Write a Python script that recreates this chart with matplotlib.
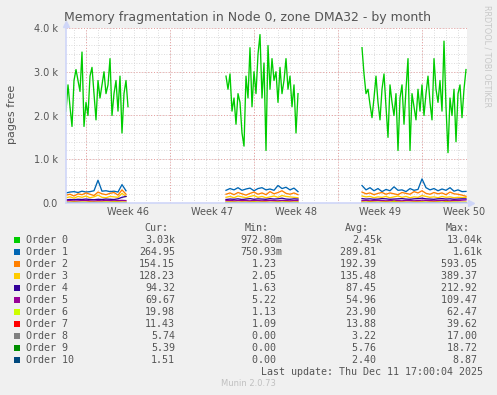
import numpy as np
import matplotlib
matplotlib.use("Agg")
import matplotlib.pyplot as plt
from matplotlib.patches import Rectangle

W, H = 497, 395

# time span of the graph
t_start = np.datetime64("2025-11-08T07:00")
t_end = np.datetime64("2025-12-11T17:00")
seg_starts = [np.datetime64("2025-11-08T07:00"),
              np.datetime64("2025-11-21T15:00"),
              np.datetime64("2025-12-02T23:00")]

# pages free, order 0 sampled every 4 h, the others every 8 h
order0 = [
    [2100, 2700, 2200, 1750, 2800, 3050, 2800, 2550, 3450, 1750, 2300, 2000, 2900, 3100, 2500, 1900,
     2800, 2400, 2700, 3000, 2500, 2700, 3300, 2000, 2500, 2800, 2100, 2900, 1600, 2500, 2800, 2200],
    [2900, 2600, 2950, 2100, 2400, 1800, 2500, 2300, 1600, 1300, 2900, 2400, 3550, 2200, 3000, 2500,
     3400, 3850, 2400, 3200, 1200, 3600, 2600, 3300, 2800, 3000, 2300, 3100, 2500, 2800, 3300, 2600,
     2900, 2200, 2700, 1600, 2500],
    [3550, 2950, 2500, 2600, 2250, 1950, 2400, 2900, 2300, 1900, 2600, 2950, 2200, 1500, 2700, 2300,
     2000, 2500, 1200, 2400, 2700, 1800, 2600, 3300, 1200, 2500, 2200, 1900, 2600, 2100, 2700, 2000,
     2500, 2900, 2300, 1900, 3300, 2600, 2300, 2800, 2100, 3700, 2200, 1150, 2400, 2000, 2600, 1400,
     2500, 2700, 1950, 2600, 3050],
]
order1 = [
    [230, 250, 260, 240, 270, 250, 260, 280, 520, 270, 280, 260, 270, 250, 420, 280],
    [290, 330, 300, 350, 290, 320, 340, 280, 330, 350, 300, 320, 290, 400, 330, 360, 300, 340, 260],
    [400, 300, 350, 280, 330, 260, 310, 280, 370, 290, 300, 260, 330, 290, 310, 550, 350, 300, 330,
     280, 320, 290, 350, 270, 300, 260, 265],
]
order2 = [
    [180, 200, 160, 210, 190, 230, 200, 170, 250, 210, 190, 220, 240, 180, 300, 200],
    [200, 230, 190, 240, 210, 180, 220, 250, 200, 230, 190, 260, 210, 240, 280, 220, 200, 230, 190],
    [250, 210, 230, 190, 220, 240, 200, 230, 210, 190, 240, 220, 200, 260, 230, 280, 220, 200, 240,
     210, 230, 190, 250, 210, 200, 180, 154],
]
order3 = [
    [120, 140, 110, 150, 130, 160, 120, 140, 180, 130, 120, 150, 140, 130, 220, 150],
    [130, 150, 120, 160, 140, 120, 150, 170, 130, 150, 120, 140, 160, 130, 170, 150, 140, 130, 120],
    [160, 140, 150, 120, 140, 130, 150, 120, 140, 160, 130, 150, 120, 140, 130, 170, 150, 130, 140,
     120, 150, 130, 140, 120, 130, 125, 128],
]
order4 = [
    [70, 80, 75, 85, 80, 90, 80, 75, 85, 80, 90, 85, 80, 95, 130, 150],
    [80, 90, 85, 95, 80, 90, 100, 85, 95, 90, 85, 100, 90, 95, 110, 90, 85, 95, 90],
    [100, 90, 95, 85, 90, 100, 95, 85, 90, 95, 100, 90, 85, 95, 100, 110, 95, 90, 85, 95, 100, 90,
     95, 85, 90, 95, 94],
]
order5 = [
    [50, 55, 45, 50, 55, 60, 50, 45, 55, 50, 60, 55, 50, 55, 60, 55],
    [55, 60, 50, 55, 60, 55, 50, 60, 55, 50, 55, 60, 55, 50, 60, 55, 50, 55, 60],
    [55, 60, 50, 55, 60, 55, 50, 55, 60, 55, 50, 60, 55, 50, 55, 65, 60, 55, 50, 55, 60, 55, 50, 60,
     55, 65, 70],
]
order6 = [
    [15, 20, 25, 18, 22, 20, 25, 18, 20, 22, 25, 20, 30, 25, 22, 20],
    [20, 25, 22, 18, 25, 20, 22, 30, 20, 25, 22, 18, 20, 25, 22, 28, 20, 22, 25],
    [25, 20, 30, 22, 20, 25, 28, 20, 40, 22, 25, 20, 18, 25, 22, 30, 20, 25, 22, 28, 20, 35, 22, 25,
     20, 18, 20],
]
order7 = [
    [10, 12, 14, 12, 10, 13, 15, 12, 14, 12, 11, 13, 12, 14, 13, 12],
    [12, 14, 13, 11, 15, 12, 14, 13, 12, 14, 15, 12, 13, 14, 12, 13, 15, 12, 14],
    [14, 12, 15, 13, 12, 14, 16, 13, 12, 15, 14, 13, 12, 14, 15, 13, 12, 14, 16, 13, 12, 14, 13, 12,
     11, 12, 11],
]
order8 = [
    [2, 3, 4, 3, 2, 3, 4, 3, 2, 3, 4, 3, 2, 3, 4, 3],
    [3, 4, 3, 2, 3, 4, 3, 2, 3, 4, 3, 2, 3, 4, 3, 2, 3, 4, 3],
    [3, 4, 3, 2, 3, 4, 3, 5, 3, 4, 3, 2, 3, 4, 3, 5, 3, 4, 3, 2, 3, 4, 5, 4, 6, 5, 6],
]
order9 = [
    [5, 6, 4, 5, 6, 5, 4, 6, 5, 6, 5, 4, 6, 5, 6, 5],
    [5, 6, 5, 4, 6, 5, 6, 5, 4, 5, 6, 5, 6, 5, 4, 6, 5, 6, 5],
    [6, 5, 6, 5, 4, 6, 5, 6, 5, 6, 5, 4, 6, 5, 6, 7, 6, 5, 6, 5, 6, 5, 6, 5, 6, 5, 5],
]
order10 = [
    [2, 3, 2, 3, 2, 3, 2, 3, 2, 3, 2, 3, 2, 3, 2, 3],
    [2, 3, 2, 3, 2, 3, 2, 3, 2, 3, 2, 3, 2, 3, 2, 3, 2, 3, 2],
    [3, 2, 3, 2, 3, 2, 3, 2, 3, 2, 3, 2, 3, 2, 3, 2, 3, 2, 3, 2, 3, 2, 3, 2, 2, 2, 1.5],
]

all_series = [order0, order1, order2, order3, order4, order5, order6, order7, order8, order9, order10]
steps = [4] + [8] * 10
names = ["Order %d" % i for i in range(11)]
colors = ["#00CC00", "#0066B3", "#FF8000", "#FFCC00", "#330099", "#990099",
          "#CCFF00", "#FF0000", "#808080", "#008F00", "#00487D"]

cur = ["3.03k", "264.95", "154.15", "128.23", "94.32", "69.67", "19.98", "11.43", "5.74", "5.39", "1.51"]
mins = ["972.80m", "750.93m", "1.23", "2.05", "1.63", "5.22", "1.13", "1.09", "0.00", "0.00", "0.00"]
avgs = ["2.45k", "289.81", "192.39", "135.48", "87.45", "54.96", "23.90", "13.88", "3.22", "5.76", "2.40"]
maxs = ["13.04k", "1.61k", "593.05", "389.37", "212.92", "109.47", "62.47", "39.62", "17.00", "18.72", "8.87"]

week_mondays = ["2025-11-10", "2025-11-17", "2025-11-24", "2025-12-01", "2025-12-08"]
week_labels = ["Week 46", "Week 47", "Week 48", "Week 49", "Week 50"]
yticks = [0, 1000, 2000, 3000, 4000]
ytick_labels = ["0.0", "1.0 k", "2.0 k", "3.0 k", "4.0 k"]

font_col = "#555555"
axis_col = "#CFD6F8"


def fx(x):
    return x / W


def fy(y):
    return 1 - y / H


def build(segs, step):
    ts, vs = [], []
    for start, vals in zip(seg_starts, segs):
        t = start + np.arange(len(vals)) * np.timedelta64(step, "h")
        ts.extend(t)
        vs.extend(vals)
        ts.append(t[-1] + np.timedelta64(1, "h"))
        vs.append(np.nan)
    return np.array(ts, dtype="datetime64[m]"), np.array(vs, dtype=float)


fig = plt.figure(figsize=(W / 100, H / 100), dpi=100, facecolor="#F0F0F0")
ax = fig.add_axes([fx(66), fy(203), fx(467) - fx(66), fy(28) - fy(203)])
ax.set_facecolor("white")
for s in ax.spines.values():
    s.set_visible(False)

ax.set_xlim(t_start, t_end)
ax.set_ylim(0, 4000)

# grid: daily / 200 pages minor, weekly / 1k major
dot = (0, (1, 2))
day = t_start.astype("datetime64[D]") + np.timedelta64(1, "D")
while day < t_end:
    ax.axvline(day, color="#d0d0d0", lw=0.6, ls=dot, zorder=0)
    day += np.timedelta64(1, "D")
for v in range(200, 4001, 200):
    ax.axhline(v, color="#d0d0d0", lw=0.6, ls=dot, zorder=0)
for d in week_mondays:
    ax.axvline(np.datetime64(d), color="#e8a0a0", lw=0.7, ls=dot, zorder=0.5)
for v in yticks[1:]:
    ax.axhline(v, color="#e8a0a0", lw=0.7, ls=dot, zorder=0.5)

for segs, step, c in zip(all_series, steps, colors):
    t, v = build(segs, step)
    ax.plot(t, v, color=c, lw=0.95)

mid = [np.datetime64(d) + np.timedelta64(84, "h") for d in week_mondays]
ax.set_xticks(mid)
ax.set_xticklabels(week_labels)
ax.set_yticks(yticks)
ax.set_yticklabels(ytick_labels)
ax.tick_params(length=0, labelsize=7, colors=font_col)
ax.tick_params(axis="y", pad=6)
ax.tick_params(axis="x", pad=3)

# axes with arrows
fig.add_artist(plt.Line2D([fx(66), fx(66)], [fy(203), fy(25)], color=axis_col, lw=1.2))
fig.add_artist(plt.Line2D([fx(66), fx(470)], [fy(203), fy(203)], color=axis_col, lw=1.2))
fig.add_artist(plt.Line2D([fx(66)], [fy(24)], marker="^", ms=4.5, color=axis_col))
fig.add_artist(plt.Line2D([fx(471)], [fy(203)], marker=">", ms=4.5, color=axis_col))

fig.text(fx(248), fy(18), "Memory fragmentation in Node 0, zone DMA32 - by month",
         ha="center", va="center", fontsize=9, color=font_col)
fig.text(fx(12), fy(114), "pages free", rotation=90, ha="center", va="center",
         fontsize=8, color=font_col)
fig.text(fx(487), fy(5), "RRDTOOL / TOBI OETIKER", rotation=270, ha="center", va="top",
         fontsize=5.8, color="#c8c8c8")

# legend table
mono = dict(family="DejaVu Sans Mono", fontsize=7.2, color=font_col, va="center")
for label, xr in zip(["Cur:", "Min:", "Avg:", "Max:"], [168, 269, 369, 470]):
    fig.text(fx(xr), fy(228), label, ha="right", **mono)


def padded(s):
    return s if s[-1] in "km" else s + " "


for i in range(11):
    y = 240 + 12 * i
    fig.add_artist(Rectangle((fx(14), fy(y + 3)), 6 / W, 6 / H, transform=fig.transFigure,
                             facecolor=colors[i], edgecolor="none"))
    fig.text(fx(26), fy(y), names[i], ha="left", **mono)
    fig.text(fx(175), fy(y), cur[i], ha="right", **mono)
    fig.text(fx(282), fy(y), padded(mins[i]), ha="right", **mono)
    fig.text(fx(382), fy(y), padded(avgs[i]), ha="right", **mono)
    fig.text(fx(483), fy(y), padded(maxs[i]), ha="right", **mono)

fig.text(fx(483), fy(372), "Last update: Thu Dec 11 17:00:04 2025", ha="right", **mono)
fig.text(fx(248), fy(384), "Munin 2.0.73", ha="center", va="center", fontsize=6, color="#c0c0c0")

fig.savefig("out.png", dpi=100, facecolor=fig.get_facecolor())
